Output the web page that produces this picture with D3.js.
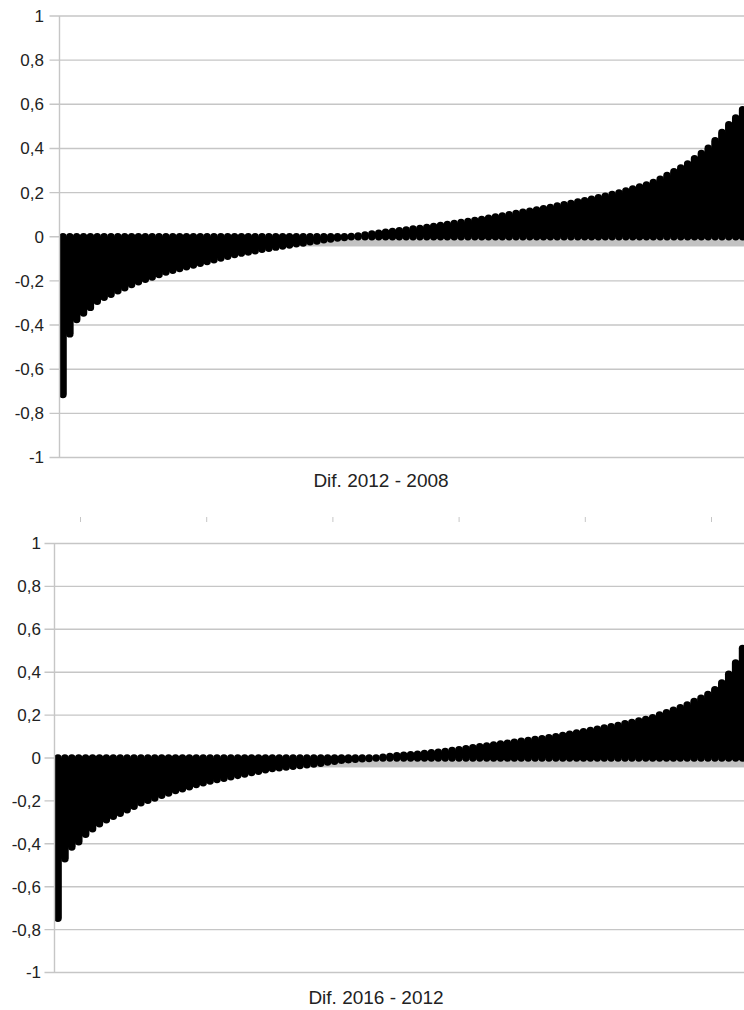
<!DOCTYPE html>
<html>
<head>
<meta charset="utf-8">
<script src="https://cdn.jsdelivr.net/npm/d3@7"></script>
<style>
  html, body { margin: 0; padding: 0; background: #fff; }
  svg { display: block; font-family: "Liberation Sans", Arial, sans-serif; }
  .tick-label { font-size: 17px; fill: #222; }
  .panel-title { font-size: 19px; fill: #222; }
</style>
</head>
<body>
<div id="chart"></div>
<script>
// Sorted differences, two panels, drawn as dense black bars from 0

const yTicks = [1, 0.8, 0.6, 0.4, 0.2, 0, -0.2, -0.4, -0.6, -0.8, -1];

const titles = ["Dif. 2012 - 2008", "Dif. 2016 - 2012"];

const diff2012_2008 = [
  -0.715, -0.44, -0.375, -0.345, -0.32, -0.292, -0.274, -0.26, -0.245, -0.231,
  -0.216, -0.204, -0.193, -0.182, -0.171, -0.16, -0.152, -0.144, -0.136, -0.128,
  -0.12, -0.112, -0.104, -0.096, -0.088, -0.08, -0.074, -0.069, -0.063, -0.057,
  -0.052, -0.047, -0.042, -0.037, -0.032, -0.028, -0.023, -0.019, -0.014, -0.01,
  -0.006, -0.003, 0.001, 0.004, 0.008, 0.012, 0.016, 0.02, 0.024, 0.027,
  0.031, 0.035, 0.038, 0.042, 0.046, 0.051, 0.056, 0.06, 0.065, 0.069,
  0.074, 0.078, 0.084, 0.089, 0.094, 0.1, 0.105, 0.111, 0.116, 0.121,
  0.127, 0.133, 0.139, 0.145, 0.151, 0.157, 0.163, 0.17, 0.177, 0.184,
  0.191, 0.198, 0.207, 0.216, 0.226, 0.235, 0.246, 0.261, 0.278, 0.295,
  0.311, 0.33, 0.353, 0.377, 0.401, 0.435, 0.472, 0.507, 0.538, 0.575
];

const diff2016_2012 = [
  -0.747, -0.47, -0.415, -0.39, -0.355, -0.33, -0.306, -0.288, -0.272, -0.257,
  -0.241, -0.225, -0.209, -0.197, -0.186, -0.174, -0.163, -0.152, -0.143, -0.134,
  -0.124, -0.115, -0.107, -0.1, -0.094, -0.087, -0.081, -0.075, -0.068, -0.062,
  -0.055, -0.049, -0.045, -0.042, -0.038, -0.035, -0.032, -0.028, -0.024, -0.019,
  -0.015, -0.011, -0.008, -0.006, -0.004, -0.002, 0.0, 0.003, 0.007, 0.01,
  0.013, 0.015, 0.018, 0.021, 0.024, 0.027, 0.03, 0.035, 0.039, 0.043,
  0.048, 0.052, 0.056, 0.06, 0.065, 0.069, 0.073, 0.078, 0.082, 0.086,
  0.09, 0.094, 0.099, 0.105, 0.111, 0.117, 0.122, 0.128, 0.134, 0.14,
  0.146, 0.152, 0.16, 0.166, 0.173, 0.18, 0.188, 0.2, 0.211, 0.223,
  0.234, 0.247, 0.263, 0.279, 0.296, 0.318, 0.35, 0.39, 0.443, 0.51
];

// grey band just under the zero line (value range)
const baseBand = [-0.044, -0.012];

// stray category ticks between the two panels
const strayTicks = [0, 1, 2, 3, 4, 5];

function draw() {
  const W = 744, H = 1010;
  const gridColor = "#c6c6c6";

  const svg = d3.select("#chart").append("svg")
    .attr("width", W)
    .attr("height", H);

  const panels = [
    { values: diff2012_2008, title: titles[0], left: 59.5, right: 746, top: 16, bottom: 457.5, labelX: 44, titleX: 381, titleY: 487 },
    { values: diff2016_2012, title: titles[1], left: 54.5, right: 746, top: 543.5, bottom: 972.5, labelX: 41, titleX: 376, titleY: 1004 }
  ];

  panels.forEach(p => {
    const y = d3.scaleLinear().domain([-1, 1]).range([p.bottom, p.top]);
    const x = d3.scaleBand()
      .domain(d3.range(p.values.length))
      .range([p.left, p.right])
      .padding(0);
    const bw = x.bandwidth();

    const g = svg.append("g");

    // gridlines + outer ticks
    g.append("g")
      .selectAll("line")
      .data(yTicks)
      .join("line")
      .attr("x1", p.left - 10).attr("x2", W)
      .attr("y1", d => y(d)).attr("y2", d => y(d))
      .attr("stroke", gridColor)
      .attr("stroke-width", 1.4);

    // tick labels (comma decimals, plain hyphen)
    g.append("g")
      .selectAll("text")
      .data(yTicks)
      .join("text")
      .attr("class", "tick-label")
      .attr("x", p.labelX)
      .attr("y", d => y(d))
      .attr("dy", "0.35em")
      .attr("text-anchor", "end")
      .text(d => String(d).replace(".", ","));

    // grey base band
    g.append("rect")
      .attr("x", p.left)
      .attr("width", W - p.left)
      .attr("y", y(baseBand[1]))
      .attr("height", y(baseBand[0]) - y(baseBand[1]))
      .attr("fill", "#c2c2c2");

    // solid body under the bars, so no gaps show between them
    const body = d3.area()
      .x((d, i) => x(i) + bw / 2)
      .y0(y(0))
      .y1(d => y(d))
      .curve(d3.curveStep);
    g.append("path")
      .datum(p.values)
      .attr("d", body)
      .attr("fill", "#000");

    // bars as thick round-capped strokes
    g.append("g")
      .selectAll("line")
      .data(p.values)
      .join("line")
      .attr("x1", (d, i) => x(i) + bw / 2)
      .attr("x2", (d, i) => x(i) + bw / 2)
      .attr("y1", y(0))
      .attr("y2", d => y(d))
      .attr("stroke", "#000")
      .attr("stroke-width", bw + 0.6)
      .attr("stroke-linecap", "round");

    // y axis line
    g.append("line")
      .attr("x1", p.left).attr("x2", p.left)
      .attr("y1", p.top).attr("y2", p.bottom)
      .attr("stroke", gridColor)
      .attr("stroke-width", 1.4);

    g.append("text")
      .attr("class", "panel-title")
      .attr("x", p.titleX)
      .attr("y", p.titleY)
      .attr("text-anchor", "middle")
      .text(p.title);
  });

  // small ticks between the panels
  const sx = d3.scalePoint().domain(strayTicks).range([80, 711]);
  const strayAxis = svg.append("g")
    .attr("transform", "translate(0,517)")
    .call(d3.axisBottom(sx).tickSize(5).tickFormat(""));
  strayAxis.select(".domain").remove();
  strayAxis.selectAll("line").attr("stroke", "#c6c6c6");
}

draw();
</script>
</body>
</html>
